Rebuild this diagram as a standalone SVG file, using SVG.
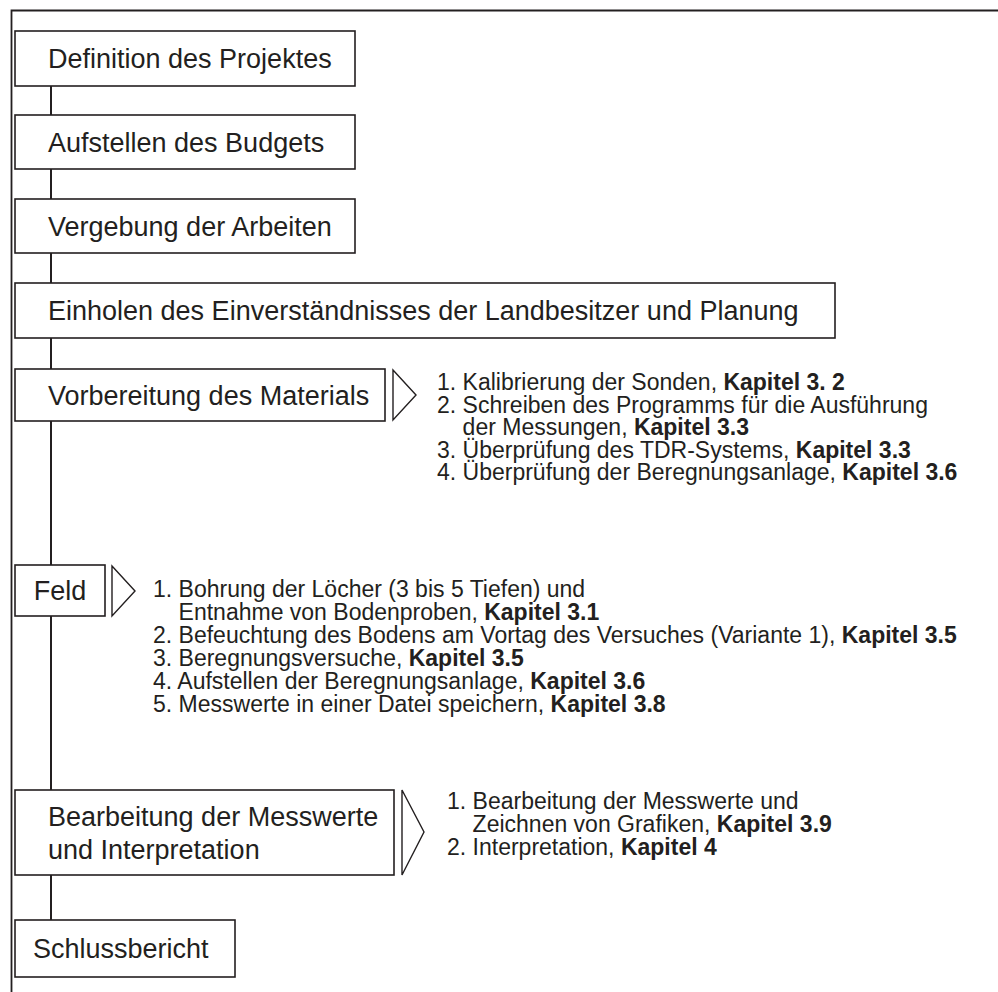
<svg xmlns="http://www.w3.org/2000/svg" width="998" height="992" viewBox="0 0 998 992">
<style>
.box{fill:#fff;stroke:#231f20;stroke-width:1.6}
.chev{fill:#fff;stroke:#231f20;stroke-width:1.4;stroke-linejoin:miter}
.con{stroke:#231f20;stroke-width:2;fill:none}
.frame{stroke:#231f20;stroke-width:1.8;fill:none}
.lbl{font-family:"Liberation Sans",Arial,sans-serif;font-size:27px;fill:#231f20}
.lst{font-family:"Liberation Sans",Arial,sans-serif;font-size:23px;fill:#231f20}
.b{font-weight:bold}
</style>
<rect width="998" height="992" fill="#fff"/>
<path class="frame" d="M11.5,992 V10.5 H998"/>
<g id="connectors">
<line class="con" x1="51" y1="86" x2="51" y2="115"/>
<line class="con" x1="51" y1="169" x2="51" y2="199"/>
<line class="con" x1="51" y1="253" x2="51" y2="283"/>
<line class="con" x1="51" y1="338" x2="51" y2="369"/>
<line class="con" x1="51" y1="421" x2="51" y2="565"/>
<line class="con" x1="51" y1="616" x2="51" y2="790"/>
<line class="con" x1="51" y1="875" x2="51" y2="920"/>
</g>
<g id="n1">
<rect class="box" x="15" y="31" width="340" height="55"/>
<text class="lbl" x="48" y="68">Definition des Projektes</text>
</g>
<g id="n2">
<rect class="box" x="15" y="115" width="340" height="54"/>
<text class="lbl" x="48" y="151.5">Aufstellen des Budgets</text>
</g>
<g id="n3">
<rect class="box" x="15" y="199" width="340" height="54"/>
<text class="lbl" x="48" y="235.5">Vergebung der Arbeiten</text>
</g>
<g id="n4">
<rect class="box" x="15" y="283" width="820" height="55"/>
<text class="lbl" x="48" y="320">Einholen des Einverständnisses der Landbesitzer und Planung</text>
</g>
<g id="n5">
<rect class="box" x="15" y="369" width="370" height="52"/>
<text class="lbl" x="48" y="404.5">Vorbereitung des Materials</text>
<polygon class="chev" points="393,370 416,395 393,420"/>
<text class="lst" x="437" y="390">1. Kalibrierung der Sonden, <tspan class="b">Kapitel 3. 2</tspan></text>
<text class="lst" x="437" y="412.5">2. Schreiben des Programms für die Ausführung</text>
<text class="lst" x="462.6" y="435">der Messungen, <tspan class="b">Kapitel 3.3</tspan></text>
<text class="lst" x="437" y="457.5">3. Überprüfung des TDR-Systems, <tspan class="b">Kapitel 3.3</tspan></text>
<text class="lst" x="437" y="480">4. Überprüfung der Beregnungsanlage, <tspan class="b">Kapitel 3.6</tspan></text>
</g>
<g id="n6">
<rect class="box" x="15" y="565" width="90" height="51"/>
<text class="lbl" x="60" y="600" text-anchor="middle">Feld</text>
<polygon class="chev" points="112,566 135,591 112,616"/>
<text class="lst" x="153" y="597">1. Bohrung der Löcher (3 bis 5 Tiefen) und</text>
<text class="lst" x="178.6" y="620">Entnahme von Bodenproben, <tspan class="b">Kapitel 3.1</tspan></text>
<text class="lst" x="153" y="643">2. Befeuchtung des Bodens am Vortag des Versuches (Variante 1), <tspan class="b">Kapitel 3.5</tspan></text>
<text class="lst" x="153" y="666">3. Beregnungsversuche, <tspan class="b">Kapitel 3.5</tspan></text>
<text class="lst" x="153" y="689">4. Aufstellen der Beregnungsanlage, <tspan class="b">Kapitel 3.6</tspan></text>
<text class="lst" x="153" y="712">5. Messwerte in einer Datei speichern, <tspan class="b">Kapitel 3.8</tspan></text>
</g>
<g id="n7">
<rect class="box" x="15" y="790" width="379" height="85"/>
<text class="lbl" x="48" y="826">Bearbeitung der Messwerte</text>
<text class="lbl" x="48" y="859">und Interpretation</text>
<polygon class="chev" points="402,790 424,832 402,875"/>
<text class="lst" x="447" y="809">1. Bearbeitung der Messwerte und</text>
<text class="lst" x="472.6" y="832">Zeichnen von Grafiken, <tspan class="b">Kapitel 3.9</tspan></text>
<text class="lst" x="447" y="855">2. Interpretation, <tspan class="b">Kapitel 4</tspan></text>
</g>
<g id="n8">
<rect class="box" x="15" y="920" width="220" height="57"/>
<text class="lbl" x="33" y="958">Schlussbericht</text>
</g>
</svg>
